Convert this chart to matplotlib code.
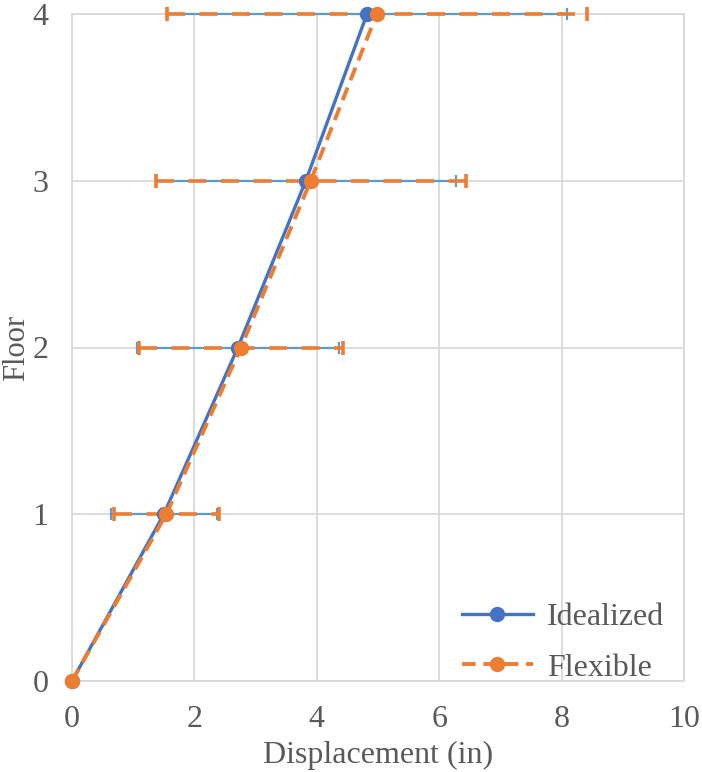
import matplotlib
matplotlib.use("Agg")
import matplotlib.pyplot as plt

floors = [0, 1, 2, 3, 4]
idealized = [0.0, 1.50, 2.71, 3.82, 4.82]
idealized_err = [0.0, 0.87, 1.65, 2.45, 3.27]
flexible = [0.0, 1.54, 2.76, 3.90, 4.98]
flexible_err = [0.0, 0.86, 1.66, 2.53, 3.43]

blue = "#4472C4"
orange = "#ED7D31"
grid = "#D9D9D9"
text = "#595959"

plt.rcParams["font.family"] = ["Liberation Serif", "DejaVu Serif"]

fig = plt.figure(figsize=(7.02, 7.72), dpi=100)
ax = fig.add_axes([72 / 702, 91 / 772, 612 / 702, 667 / 772])

# error bars (drawn first so the lines sit on top)
eb1 = ax.errorbar(idealized[1:], floors[1:], xerr=idealized_err[1:], fmt="none",
                  ecolor="#5B9BD5", elinewidth=1.6, capsize=4, capthick=1.6,
                  zorder=3, clip_on=False)
eb2 = ax.errorbar(flexible[1:], floors[1:], xerr=flexible_err[1:], fmt="none",
                  ecolor=orange, elinewidth=2.6, capsize=5, capthick=2.6,
                  zorder=4, clip_on=False)
for lc in eb2[2]:
    lc.set_linestyle((0, (5, 4)))

ax.plot(idealized, floors, color=blue, lw=2.4, marker="o", ms=10,
        label="Idealized", zorder=5, clip_on=False)
ax.plot(flexible, floors, color=orange, lw=2.8, ls=(0, (3.5, 2)), marker="o", ms=10,
        label="Flexible", zorder=6, clip_on=False)

ax.set_xlim(0, 10)
ax.set_ylim(0, 4)
ax.set_xticks([0, 2, 4, 6, 8, 10])
ax.set_yticks([0, 1, 2, 3, 4])
ax.grid(True, color=grid, lw=1.3)
ax.set_axisbelow(True)
for s in ax.spines.values():
    s.set_color(grid)
    s.set_linewidth(1.3)
ax.tick_params(length=0, labelsize=23, colors=text)
ax.tick_params(axis="x", pad=17)
ax.tick_params(axis="y", pad=17)
ax.set_xlabel("Displacement (in)", fontsize=23, color=text, labelpad=5)
ax.set_ylabel("Floor", fontsize=22, color=text)
ax.yaxis.set_label_coords(-0.067, 0.5)

leg = ax.legend(loc="lower right", frameon=False, fontsize=23, handlelength=2.2,
                handletextpad=0.45, labelcolor=text, borderaxespad=0.0,
                labelspacing=0.67, bbox_to_anchor=(0.9886, -0.0216))

fig.savefig("out.png", dpi=100)
